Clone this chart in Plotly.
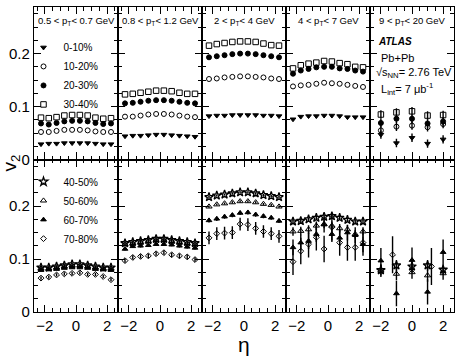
import plotly.graph_objects as go
from plotly.subplots import make_subplots

# ---------------- data ----------------
pt_labels = ["0.5 < p<sub>T</sub>< 0.7 GeV", "0.8 < p<sub>T</sub>< 1.2 GeV",
             "2 < p<sub>T</sub>< 4 GeV", "4 < p<sub>T</sub>< 7 GeV", "9 < p<sub>T</sub>< 20 GeV"]

eta_fine = [-2.25, -1.75, -1.25, -0.75, -0.25, 0.25, 0.75, 1.25, 1.75, 2.25]
eta_coarse = [-2, -1, 0, 1, 2]
eta_c70_hi = [-1.25, 1.25]

# top row: centralities 0-10, 10-20, 20-30, 30-40 ; one list per pT panel
v2_c0_10 = [
    [0.029, 0.030, 0.030, 0.031, 0.031, 0.031, 0.031, 0.030, 0.029, 0.029],
    [0.044, 0.045, 0.045, 0.046, 0.047, 0.047, 0.046, 0.045, 0.044, 0.043],
    [0.082, 0.083, 0.083, 0.084, 0.084, 0.084, 0.084, 0.083, 0.083, 0.082],
    [0.076, 0.081, 0.082, 0.082, 0.083, 0.083, 0.082, 0.080, 0.080, 0.080],
    [0.047, 0.031, 0.041, 0.030, 0.038],
]
v2_c10_20 = [
    [0.052, 0.052, 0.054, 0.056, 0.056, 0.056, 0.055, 0.053, 0.052, 0.052],
    [0.081, 0.081, 0.083, 0.085, 0.086, 0.086, 0.085, 0.083, 0.081, 0.080],
    [0.152, 0.153, 0.155, 0.156, 0.157, 0.157, 0.156, 0.155, 0.153, 0.152],
    [0.138, 0.140, 0.141, 0.143, 0.145, 0.144, 0.143, 0.141, 0.139, 0.137],
    [0.055, 0.062, 0.064, 0.061, 0.067],
]
v2_c20_30 = [
    [0.068, 0.066, 0.069, 0.072, 0.073, 0.073, 0.072, 0.069, 0.067, 0.068],
    [0.106, 0.107, 0.109, 0.111, 0.112, 0.112, 0.111, 0.109, 0.107, 0.106],
    [0.193, 0.195, 0.197, 0.199, 0.200, 0.200, 0.199, 0.197, 0.195, 0.193],
    [0.162, 0.168, 0.171, 0.174, 0.175, 0.175, 0.172, 0.171, 0.168, 0.166],
    [0.069, 0.077, 0.077, 0.068, 0.072],
]
v2_c30_40 = [
    [0.079, 0.078, 0.080, 0.083, 0.084, 0.084, 0.083, 0.079, 0.077, 0.078],
    [0.123, 0.124, 0.126, 0.128, 0.130, 0.130, 0.129, 0.126, 0.124, 0.124],
    [0.215, 0.218, 0.220, 0.222, 0.223, 0.223, 0.222, 0.219, 0.216, 0.215],
    [0.172, 0.178, 0.181, 0.183, 0.186, 0.185, 0.182, 0.180, 0.175, 0.174],
    [0.085, 0.089, 0.091, 0.083, 0.084],
]
err_top_hi = [0.008, 0.008, 0.008, 0.008, 0.008]

# bottom row: centralities 40-50, 50-60, 60-70, 70-80
v2_c40_50 = [
    [0.084, 0.084, 0.086, 0.088, 0.090, 0.090, 0.088, 0.086, 0.084, 0.084],
    [0.130, 0.132, 0.134, 0.136, 0.138, 0.138, 0.136, 0.134, 0.132, 0.130],
    [0.217, 0.220, 0.222, 0.224, 0.226, 0.226, 0.224, 0.221, 0.219, 0.217],
    [0.171, 0.172, 0.175, 0.178, 0.180, 0.181, 0.178, 0.174, 0.171, 0.171],
    [0.079, 0.088, 0.086, 0.088, 0.080],
]
v2_c50_60 = [
    [0.082, 0.082, 0.084, 0.086, 0.088, 0.088, 0.086, 0.084, 0.082, 0.082],
    [0.128, 0.130, 0.132, 0.134, 0.136, 0.136, 0.134, 0.132, 0.130, 0.128],
    [0.199, 0.203, 0.205, 0.207, 0.209, 0.209, 0.207, 0.204, 0.202, 0.199],
    [0.152, 0.153, 0.156, 0.163, 0.166, 0.163, 0.158, 0.156, 0.147, 0.152],
    [0.078, 0.072, 0.075, 0.069, 0.073],
]
v2_c60_70 = [
    [0.079, 0.080, 0.081, 0.083, 0.084, 0.084, 0.083, 0.081, 0.080, 0.079],
    [0.119, 0.124, 0.125, 0.126, 0.128, 0.128, 0.127, 0.125, 0.123, 0.121],
    [0.173, 0.176, 0.180, 0.183, 0.187, 0.188, 0.184, 0.181, 0.178, 0.172],
    [0.122, 0.131, 0.134, 0.147, 0.165, 0.147, 0.140, 0.150, 0.145, 0.128],
    [0.097, 0.035, 0.098, 0.038, 0.113],
]
v2_c70_80 = [
    [0.064, 0.066, 0.070, 0.072, 0.073, 0.074, 0.071, 0.071, 0.067, 0.061],
    [0.097, 0.103, 0.105, 0.106, 0.110, 0.112, 0.108, 0.106, 0.104, 0.099],
    [0.140, 0.148, 0.149, 0.150, 0.166, 0.165, 0.158, 0.152, 0.148, 0.143],
    [0.095, 0.115, 0.128, 0.141, 0.119, 0.160, 0.131, 0.122, 0.122, 0.131],
    [0.108, 0.086],
]
err_c40_50 = [0.002, 0.002, 0.002, 0.004, 0.010]
err_c50_60 = [0.002, 0.002, 0.002, 0.008, 0.012]
err_c60_70 = [0.002, 0.003, 0.004, 0.015, 0.024]
err_c70_80 = [0.003, 0.004, 0.012, 0.025, 0.035]

# ---------------- figure ----------------
fig = make_subplots(rows=2, cols=5, horizontal_spacing=0, vertical_spacing=0)

FONT = "Liberation Sans, Arial, sans-serif"

top_series = [
    ("0-10%", v2_c0_10, "triangle-down", 5, 1),
    ("10-20%", v2_c10_20, "circle-open", 5, 1),
    ("20-30%", v2_c20_30, "circle", 5, 1),
    ("30-40%", v2_c30_40, "square-open", 5.5, 1),
]
bot_series = [
    ("40-50%", v2_c40_50, err_c40_50, "star-open", 6.5, 1.3),
    ("50-60%", v2_c50_60, err_c50_60, "triangle-up-open", 5.5, 1),
    ("60-70%", v2_c60_70, err_c60_70, "triangle-up", 5, 1),
    ("70-80%", v2_c70_80, err_c70_80, "diamond-open", 4.5, 1),
]

for name, vals, sym, size, lw in top_series:
    for p in range(5):
        xs = eta_fine if p < 4 else eta_coarse
        err = [0] * len(xs) if p < 4 else [err_top_hi[p]] * len(xs)
        fig.add_trace(go.Scatter(
            x=xs, y=vals[p], mode="markers", name=name,
            marker=dict(symbol=sym, size=size, color="black", line=dict(color="black", width=lw)),
            error_y=dict(type="data", array=err, width=0, thickness=1.4, color="black"),
            showlegend=(p == 0), legend="legend"),
            row=1, col=p + 1)

for name, vals, errs, sym, size, lw in bot_series:
    for p in range(5):
        if p < 4:
            xs = eta_fine
        elif name == "70-80%":
            xs = eta_c70_hi
        else:
            xs = eta_coarse
        fig.add_trace(go.Scatter(
            x=xs, y=vals[p], mode="markers", name=name,
            marker=dict(symbol=sym, size=size, color="black", line=dict(color="black", width=lw)),
            error_y=dict(type="data", array=[errs[p]] * len(xs), width=0, thickness=1.4, color="black"),
            showlegend=(p == 0), legend="legend2"),
            row=2, col=p + 1)

fig.update_xaxes(range=[-2.7, 2.7], tickvals=[-2, 0, 2], ticks="inside", ticklen=7,
                 showline=True, linecolor="black", linewidth=1.2, mirror="allticks",
                 showgrid=False, zeroline=False, tickcolor="black",
                 minor=dict(dtick=0.5, tick0=0, ticks="inside", ticklen=3.5, tickcolor="black", showgrid=False),
                 tickfont=dict(family=FONT, size=15, color="black"))
fig.update_yaxes(range=[0, 0.288], tickvals=[0, 0.1, 0.2], ticktext=["0", "0.1", "0.2"],
                 ticks="inside", ticklen=7,
                 showline=True, linecolor="black", linewidth=1.2, mirror="allticks",
                 showgrid=False, zeroline=False, tickcolor="black",
                 minor=dict(dtick=0.025, tick0=0, ticks="inside", ticklen=3.5, tickcolor="black", showgrid=False),
                 tickfont=dict(family=FONT, size=15, color="black"))
for c in range(1, 6):
    fig.update_xaxes(showticklabels=False, row=1, col=c)
    if c > 1:
        fig.update_yaxes(showticklabels=False, row=1, col=c)
        fig.update_yaxes(showticklabels=False, row=2, col=c)


def dref(axis, i):
    return f"{axis} domain" if i == 1 else f"{axis}{i} domain"


ann = []
for i, lab in enumerate(pt_labels):
    ann.append(dict(text=lab, xref=dref("x", i + 1), yref=dref("y", i + 1),
                    x=0.5, y=0.905, showarrow=False, xanchor="center", yanchor="middle",
                    font=dict(family=FONT, size=9.5, color="black")))
ref5x, ref5y = "x5 domain", "y5 domain"
ann += [
    dict(text="<b><i>ATLAS</i></b>", xref=ref5x, yref=ref5y, x=0.07, y=0.775, showarrow=False,
         xanchor="left", yanchor="middle", font=dict(family=FONT, size=10, color="black")),
    dict(text="Pb+Pb", xref=ref5x, yref=ref5y, x=0.11, y=0.665, showarrow=False,
         xanchor="left", yanchor="middle", font=dict(family=FONT, size=11, color="black")),
    dict(text="√s<sub>NN</sub>= 2.76 TeV", xref=ref5x, yref=ref5y, x=0.05, y=0.565, showarrow=False,
         xanchor="left", yanchor="middle", font=dict(family=FONT, size=11, color="black")),
    dict(text="L<sub>int</sub>= 7 μb<sup>-1</sup>", xref=ref5x, yref=ref5y, x=0.11, y=0.46, showarrow=False,
         xanchor="left", yanchor="middle", font=dict(family=FONT, size=11, color="black")),
    dict(text="v<sub>2</sub>", xref="paper", yref="paper", x=-0.055, y=0.49, textangle=-90,
         showarrow=False, xanchor="center", yanchor="middle", font=dict(family=FONT, size=19, color="black")),
    dict(text="η", xref="paper", yref="paper", x=0.5, y=-0.105, showarrow=False,
         xanchor="center", yanchor="middle", font=dict(family=FONT, size=21, color="black")),
]

fig.update_layout(
    width=459, height=363,
    margin=dict(l=34, r=5, t=7, b=51),
    paper_bgcolor="white", plot_bgcolor="white",
    annotations=ann,
    legend=dict(x=-0.025, y=0.915, xanchor="left", yanchor="top", bgcolor="rgba(0,0,0,0)",
                font=dict(family=FONT, size=10, color="black"), tracegroupgap=0),
    legend2=dict(x=-0.025, y=0.475, xanchor="left", yanchor="top", bgcolor="rgba(0,0,0,0)",
                 font=dict(family=FONT, size=10, color="black"), tracegroupgap=0),
)

fig.write_html("out.html")
